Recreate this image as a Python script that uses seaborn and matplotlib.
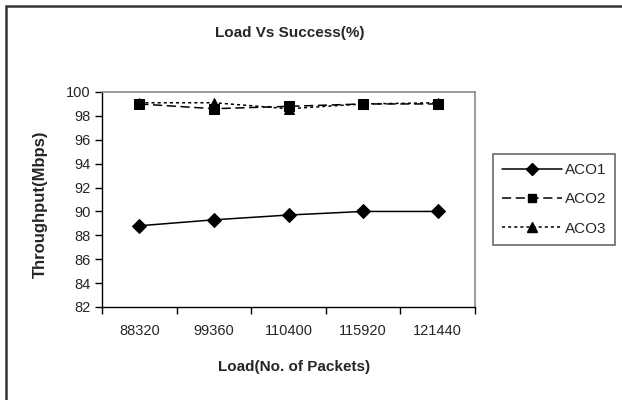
import matplotlib
matplotlib.use("Agg")
import matplotlib.pyplot as plt
from matplotlib.patches import Rectangle
import seaborn as sns
import pandas as pd

# Data
loads = ["88320", "99360", "110400", "115920", "121440"]
aco1 = [88.8, 89.3, 89.7, 90.0, 90.0]
aco2 = [99.0, 98.6, 98.8, 99.0, 99.0]
aco3 = [99.1, 99.1, 98.6, 99.0, 99.1]
series_names = ["ACO1", "ACO2", "ACO3"]
y_ticks = [82, 84, 86, 88, 90, 92, 94, 96, 98, 100]

df = pd.DataFrame({
    "load": loads * 3,
    "value": aco1 + aco2 + aco3,
    "series": [s for s in series_names for _ in loads],
})

sns.set_theme(style="white")
plt.rcParams["font.family"] = ["Liberation Sans", "DejaVu Sans"]

fig = plt.figure(figsize=(6.22, 4.0), dpi=100)
ax = fig.add_axes([102 / 622, 1 - 307 / 400, (475 - 102) / 622, (307 - 92) / 400])

sns.lineplot(
    data=df, x="load", y="value", hue="series", style="series",
    palette={"ACO1": "black", "ACO2": "black", "ACO3": "black"},
    markers={"ACO1": "D", "ACO2": "s", "ACO3": "^"},
    dashes={"ACO1": "", "ACO2": (6, 3), "ACO3": (2, 2)},
    markersize=7, linewidth=1.1, markeredgecolor="black",
    sort=False, ax=ax, legend=False,
)

ax.set_xlim(-0.5, 4.5)
ax.set_ylim(82, 100)
ax.set_yticks(y_ticks)
ax.set_yticklabels([str(v) for v in y_ticks], fontsize=10.5)
ax.set_xticks(range(len(loads)))
ax.set_xticklabels(loads, fontsize=10.5)
ax.tick_params(axis="x", which="major", length=0, pad=12)
ax.set_xticks([i - 0.5 for i in range(len(loads) + 1)], minor=True)
ax.tick_params(axis="x", which="minor", length=5, width=1, color="black", direction="out", bottom=True)
ax.tick_params(axis="y", length=5, width=1, color="black", direction="out", left=True, pad=3)

for side in ["left", "bottom"]:
    ax.spines[side].set_color("black")
    ax.spines[side].set_linewidth(1.0)
for side in ["top", "right"]:
    ax.spines[side].set_color("#8a8a8a")
    ax.spines[side].set_linewidth(1.2)
ax.grid(False)

ax.set_xlabel("")
ax.set_ylabel("")
fig.text(294 / 622, 1 - 367 / 400, "Load(No. of Packets)", ha="center", va="center",
         fontsize=11, fontweight="bold")
fig.text(40 / 622, 1 - 204 / 400, "Throughput(Mbps)", ha="center", va="center",
         rotation=90, fontsize=12, fontweight="bold")
fig.text(290 / 622, 1 - 33 / 400, "Load Vs Success(%)", ha="center", va="center",
         fontsize=11, fontweight="bold")

# Legend
handles = [
    plt.Line2D([], [], color="black", lw=1.1, marker="D", markersize=6),
    plt.Line2D([], [], color="black", lw=1.1, ls=(0, (6, 3)), marker="s", markersize=6),
    plt.Line2D([], [], color="black", lw=1.1, ls=(0, (2, 2)), marker="^", markersize=7),
]
leg = fig.legend(handles, series_names, loc="upper left",
                 bbox_to_anchor=(493 / 622, 1 - 154 / 400), borderaxespad=0,
                 fontsize=11, frameon=True, fancybox=False, handlelength=3.9,
                 handletextpad=0.2, labelspacing=1.0, borderpad=0.6)
leg.get_frame().set_edgecolor("#444444")
leg.get_frame().set_linewidth(1.2)

# Outer chart frame
fig.patches.append(Rectangle((6 / 622, -0.1), 1.2, 0.985 + 0.1, transform=fig.transFigure,
                             fill=False, edgecolor="#333333", lw=1.8))

fig.savefig("out.png", dpi=100)
